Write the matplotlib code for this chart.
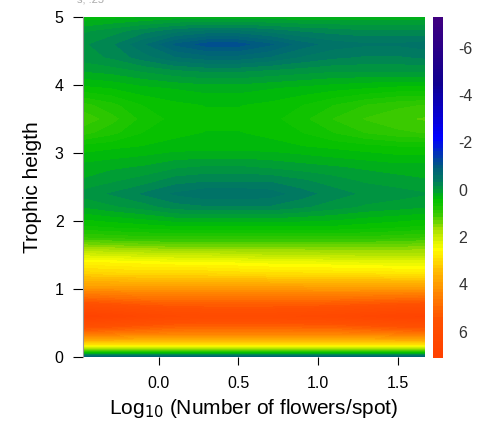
import numpy as np
import matplotlib.pyplot as plt
from matplotlib.colors import LinearSegmentedColormap

plt.rcParams['font.family'] = ['Liberation Sans', 'DejaVu Sans']

# log10 flowers/spot (columns) and trophic height (rows)
x_vals = [-0.477, -0.3, -0.1, 0.1, 0.3, 0.5, 0.7, 0.9, 1.1, 1.3, 1.5, 1.672]
y_vals = [0.0, 0.03, 0.065, 0.1, 0.14, 0.19, 0.27, 0.37, 0.6, 0.84, 1.03,
          1.23, 1.38, 1.5, 1.62, 1.75, 1.9, 2.2, 2.4, 2.6, 2.8, 3.1, 3.3,
          3.5, 3.7, 3.95, 4.2, 4.4, 4.6, 4.8, 5.0]
z_vals = [
    [-1.2, -1.2, -1.2, -1.2, -1.2, -1.2, -1.2, -1.2, -1.2, -1.2, -1.2, -1.2],
    [-0.5, -0.5, -0.5, -0.5, -0.5, -0.5, -0.5, -0.5, -0.5, -0.5, -0.5, -0.5],
    [0.3, 0.3, 0.3, 0.3, 0.3, 0.3, 0.3, 0.3, 0.3, 0.3, 0.3, 0.3],
    [1.2, 1.2, 1.2, 1.2, 1.2, 1.2, 1.2, 1.2, 1.2, 1.2, 1.2, 1.2],
    [2.0, 2.0, 2.0, 2.0, 2.0, 2.0, 2.0, 2.0, 2.0, 2.0, 2.0, 2.0],
    [2.9, 2.9, 2.9, 2.9, 2.9, 2.9, 2.9, 2.9, 2.9, 2.9, 2.9, 2.9],
    [3.9, 3.85, 3.8, 3.8, 3.8, 3.8, 3.8, 3.8, 3.8, 3.8, 3.85, 3.9],
    [4.9, 4.8, 4.7, 4.6, 4.6, 4.6, 4.6, 4.6, 4.6, 4.7, 4.8, 4.9],
    [6.8, 6.6, 6.3, 6.1, 6.0, 6.0, 6.0, 6.1, 6.2, 6.4, 6.6, 6.7],
    [5.1, 5.0, 4.9, 4.85, 4.85, 4.85, 4.85, 4.85, 4.9, 4.95, 5.0, 5.05],
    [3.95, 3.95, 3.9, 3.9, 3.9, 3.9, 3.9, 3.9, 3.85, 3.85, 3.85, 3.85],
    [3.1, 3.05, 3.0, 3.0, 3.0, 2.95, 2.9, 2.9, 2.85, 2.85, 2.8, 2.8],
    [2.65, 2.6, 2.55, 2.5, 2.5, 2.45, 2.4, 2.4, 2.35, 2.3, 2.3, 2.3],
    [2.1, 2.05, 2.0, 1.95, 1.95, 1.9, 1.85, 1.85, 1.8, 1.8, 1.8, 1.8],
    [1.55, 1.5, 1.45, 1.4, 1.4, 1.4, 1.4, 1.4, 1.4, 1.4, 1.4, 1.45],
    [1.0, 0.95, 0.9, 0.9, 0.9, 0.9, 0.9, 0.9, 0.9, 0.9, 0.95, 1.0],
    [0.6, 0.55, 0.5, 0.45, 0.45, 0.45, 0.45, 0.45, 0.45, 0.5, 0.55, 0.6],
    [0.1, 0.0, -0.1, -0.25, -0.3, -0.3, -0.3, -0.2, -0.1, 0.0, 0.05, 0.1],
    [-0.1, -0.2, -0.35, -0.5, -0.6, -0.6, -0.55, -0.4, -0.25, -0.15, -0.1, -0.05],
    [0.1, 0.0, -0.1, -0.25, -0.3, -0.3, -0.3, -0.2, -0.1, 0.0, 0.05, 0.1],
    [0.2, 0.15, 0.1, 0.0, -0.05, -0.05, 0.0, 0.05, 0.1, 0.15, 0.2, 0.2],
    [0.5, 0.45, 0.4, 0.35, 0.35, 0.35, 0.35, 0.4, 0.45, 0.5, 0.55, 0.55],
    [0.9, 0.75, 0.55, 0.45, 0.4, 0.4, 0.45, 0.55, 0.7, 0.85, 0.95, 1.0],
    [1.1, 0.9, 0.65, 0.5, 0.45, 0.45, 0.5, 0.65, 0.85, 1.0, 1.1, 1.15],
    [0.9, 0.75, 0.55, 0.45, 0.4, 0.4, 0.45, 0.55, 0.7, 0.85, 0.95, 1.0],
    [0.45, 0.4, 0.3, 0.25, 0.2, 0.2, 0.25, 0.3, 0.35, 0.4, 0.45, 0.45],
    [0.1, 0.05, -0.05, -0.15, -0.2, -0.2, -0.15, -0.1, -0.05, -0.05, -0.05, -0.05],
    [-0.1, -0.2, -0.4, -0.6, -0.7, -0.7, -0.6, -0.45, -0.35, -0.3, -0.3, -0.35],
    [-0.15, -0.3, -0.6, -0.95, -1.15, -1.15, -0.95, -0.7, -0.55, -0.5, -0.5, -0.55],
    [0.0, -0.1, -0.25, -0.4, -0.5, -0.5, -0.4, -0.3, -0.25, -0.2, -0.2, -0.2],
    [0.35, 0.3, 0.25, 0.2, 0.2, 0.2, 0.2, 0.2, 0.2, 0.2, 0.2, 0.2],
]
cb_ticks = [-6, -4, -2, 0, 2, 4, 6]

zmin, zmax = -7.3, 7.1
anchors = [(-7.3, '#400080'), (-4.5, '#100090'), (-2.2, '#0000ff'),
           (-1.0, '#005a80'), (-0.4, '#007a60'), (0.0, '#009a3a'),
           (0.4, '#00c000'), (1.0, '#30c800'), (1.7, '#a8e000'),
           (2.5, '#ffff00'), (3.5, '#ffb800'), (4.5, '#ff8000'),
           (5.5, '#ff5000'), (7.1, '#ff4000')]
cmap = LinearSegmentedColormap.from_list(
    'troph', [((v - zmin) / (zmax - zmin), c) for v, c in anchors])

fig = plt.figure(figsize=(4.84, 4.24), dpi=100)
ax = fig.add_axes([0.1715, 0.158, 0.7065, 0.802])
cax = fig.add_axes([0.8946, 0.156, 0.0207, 0.804])

levels = np.linspace(zmin, zmax, 100)
cs = ax.contourf(x_vals, y_vals, np.array(z_vals), levels=levels, cmap=cmap)
ax.set_xlim(-0.477, 1.672)
ax.set_ylim(0, 5)

for s in ['top', 'right', 'bottom']:
    ax.spines[s].set_visible(False)
ax.spines['left'].set_color('#999999')
ax.spines['left'].set_linewidth(0.8)
ax.set_xticks([0.0, 0.5, 1.0, 1.5])
ax.set_xticklabels(['0.0', '0.5', '1.0', '1.5'])
ax.set_yticks([0, 1, 2, 3, 4, 5])
ax.tick_params(axis='x', length=6, width=0.8, pad=8, labelsize=11.5)
ax.tick_params(axis='y', length=7, width=0.8, pad=7, labelsize=11.5)
ax.set_xlabel('Log$_{10}$ (Number of flowers/spot)', fontsize=15, labelpad=4)
ax.set_ylabel('Trophic heigth', fontsize=15, labelpad=9)

cb = fig.colorbar(cs, cax=cax)
cb.outline.set_visible(False)
cb.set_ticks(cb_ticks)
cb.set_ticklabels([str(t) for t in cb_ticks])
cax.invert_yaxis()
cax.tick_params(length=0, pad=11, labelsize=11.5, labelcolor='#333333')

fig.text(0.16, 1.0, 's, .25', fontsize=8, color='#aaaaaa', va='center')

fig.savefig('out.png', dpi=100)
